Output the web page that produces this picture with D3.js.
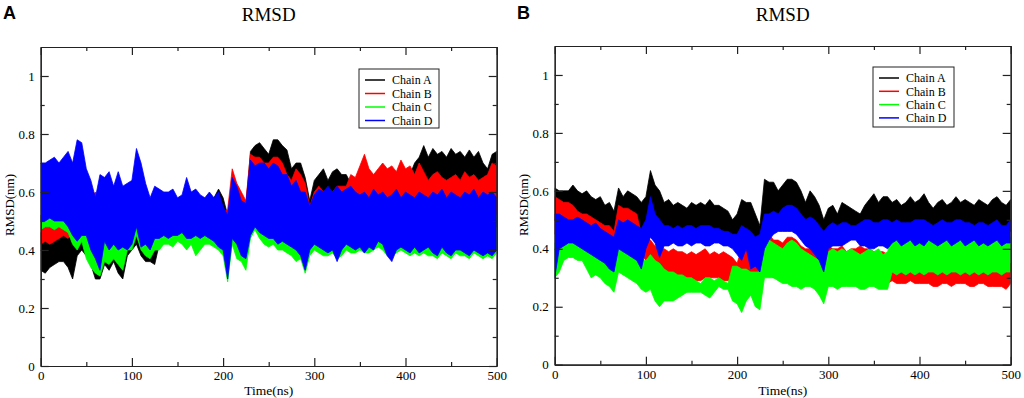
<!DOCTYPE html>
<html>
<head>
<meta charset="utf-8">
<title>RMSD</title>
<script src="https://d3js.org/d3.v7.min.js"></script>
<style>
  body { margin: 0; background: #fff; }
  svg { display: block; }
</style>
</head>
<body>
<svg width="1024" height="398" id="mainSvg"></svg>
<script>
// sampling grid of the traces (ns)
const timeNs = d3.range(0, 501, 5)

const chainNames = ["Chain A", "Chain B", "Chain C", "Chain D"]
const chainColors = ["#000000", "#ff0000", "#00ff00", "#0000ff"]

const xTicks = [0, 100, 200, 300, 400, 500]
const xMinor = [50, 150, 250, 350, 450]
const yTicks = [0, 0.2, 0.4, 0.6, 0.8, 1]
const yMinor = [0.1, 0.3, 0.5, 0.7, 0.9]

// ---- panel A : low / high envelope of each trace, every 5 ns ----
const aBlackHi = [0.46,0.47,0.45,0.46,0.48,0.47,0.46,0.48,0.55,0.56,
  0.55,0.54,0.53,0.55,0.56,0.55,0.56,0.55,0.54,0.55,
  0.56,0.58,0.56,0.55,0.54,0.55,0.56,0.56,0.56,0.56,
  0.56,0.56,0.56,0.56,0.57,0.57,0.57,0.58,0.58,0.61,
  0.58,0.52,0.62,0.60,0.56,0.55,0.74,0.76,0.77,0.75,
  0.73,0.78,0.78,0.76,0.745,0.68,0.70,0.70,0.65,0.57,
  0.64,0.66,0.68,0.64,0.67,0.68,0.66,0.66,0.63,0.62,
  0.64,0.65,0.64,0.63,0.64,0.65,0.64,0.65,0.64,0.66,
  0.65,0.66,0.70,0.72,0.76,0.72,0.75,0.73,0.74,0.72,
  0.75,0.73,0.74,0.72,0.745,0.72,0.74,0.70,0.68,0.73,
  0.74]
const aBlackLo = [0.33,0.32,0.34,0.35,0.36,0.36,0.34,0.30,0.38,0.40,
  0.38,0.35,0.30,0.30,0.35,0.33,0.36,0.32,0.30,0.38,
  0.40,0.42,0.38,0.36,0.36,0.35,0.42,0.44,0.44,0.44,
  0.45,0.45,0.44,0.44,0.43,0.44,0.44,0.44,0.43,0.42,
  0.41,0.32,0.44,0.40,0.39,0.36,0.46,0.49,0.47,0.46,
  0.45,0.45,0.44,0.44,0.43,0.42,0.40,0.40,0.36,0.41,
  0.43,0.42,0.41,0.41,0.42,0.38,0.42,0.43,0.44,0.45,
  0.46,0.46,0.46,0.46,0.47,0.47,0.46,0.46,0.47,0.47,
  0.47,0.47,0.48,0.48,0.48,0.48,0.48,0.48,0.48,0.48,
  0.48,0.48,0.48,0.48,0.48,0.48,0.48,0.48,0.48,0.48,
  0.48]
const aRedHi = [0.52,0.53,0.52,0.53,0.54,0.53,0.52,0.55,0.62,0.60,
  0.60,0.58,0.60,0.58,0.60,0.58,0.60,0.58,0.58,0.57,
  0.58,0.62,0.60,0.58,0.56,0.57,0.60,0.58,0.57,0.57,
  0.56,0.56,0.57,0.56,0.57,0.56,0.55,0.56,0.55,0.56,
  0.53,0.54,0.68,0.63,0.60,0.57,0.73,0.72,0.72,0.70,
  0.70,0.72,0.72,0.70,0.66,0.64,0.68,0.66,0.63,0.55,
  0.60,0.62,0.60,0.61,0.60,0.62,0.62,0.62,0.66,0.65,
  0.69,0.73,0.68,0.66,0.68,0.70,0.68,0.69,0.67,0.71,
  0.68,0.69,0.66,0.70,0.67,0.64,0.66,0.67,0.65,0.64,
  0.65,0.66,0.64,0.67,0.65,0.66,0.64,0.65,0.66,0.70,
  0.69]
const aRedLo = [0.42,0.43,0.42,0.43,0.44,0.45,0.44,0.46,0.46,0.47,
  0.46,0.45,0.44,0.45,0.46,0.46,0.47,0.46,0.45,0.46,
  0.47,0.50,0.47,0.46,0.45,0.46,0.47,0.47,0.47,0.47,
  0.47,0.48,0.47,0.47,0.47,0.47,0.47,0.47,0.46,0.45,
  0.44,0.40,0.48,0.46,0.44,0.43,0.50,0.52,0.51,0.50,
  0.49,0.49,0.48,0.48,0.47,0.46,0.46,0.45,0.42,0.44,
  0.46,0.46,0.46,0.46,0.46,0.45,0.46,0.47,0.50,0.52,
  0.54,0.55,0.53,0.52,0.54,0.53,0.52,0.53,0.52,0.54,
  0.53,0.52,0.53,0.54,0.52,0.51,0.52,0.53,0.52,0.51,
  0.52,0.53,0.52,0.53,0.52,0.52,0.51,0.52,0.53,0.54,
  0.53]
const aGreenHi = [0.52,0.53,0.53,0.52,0.53,0.52,0.51,0.52,0.56,0.55,
  0.54,0.50,0.48,0.50,0.54,0.52,0.53,0.52,0.50,0.52,
  0.54,0.58,0.55,0.52,0.50,0.52,0.53,0.52,0.53,0.52,
  0.53,0.52,0.54,0.52,0.53,0.52,0.52,0.53,0.51,0.50,
  0.48,0.46,0.56,0.52,0.50,0.48,0.58,0.60,0.58,0.57,
  0.56,0.57,0.56,0.55,0.54,0.53,0.54,0.52,0.50,0.50,
  0.53,0.54,0.53,0.54,0.53,0.52,0.53,0.54,0.53,0.52,
  0.53,0.52,0.53,0.54,0.55,0.56,0.53,0.52,0.53,0.52,
  0.53,0.52,0.53,0.52,0.53,0.52,0.52,0.51,0.53,0.52,
  0.51,0.52,0.52,0.51,0.52,0.53,0.52,0.51,0.52,0.51,
  0.52]
const aGreenLo = [0.47,0.48,0.48,0.47,0.48,0.47,0.46,0.42,0.40,0.43,
  0.37,0.34,0.32,0.31,0.36,0.35,0.37,0.35,0.33,0.40,
  0.40,0.45,0.40,0.38,0.37,0.40,0.40,0.42,0.42,0.41,
  0.43,0.42,0.40,0.42,0.38,0.40,0.42,0.42,0.41,0.40,
  0.38,0.29,0.42,0.37,0.36,0.33,0.44,0.47,0.44,0.42,
  0.41,0.42,0.40,0.40,0.39,0.38,0.36,0.37,0.32,0.38,
  0.40,0.39,0.38,0.38,0.39,0.37,0.38,0.40,0.39,0.39,
  0.40,0.39,0.39,0.40,0.41,0.40,0.38,0.38,0.39,0.40,
  0.39,0.38,0.39,0.38,0.39,0.38,0.38,0.37,0.39,0.38,
  0.37,0.39,0.38,0.38,0.37,0.39,0.38,0.37,0.38,0.37,
  0.39]
const aBlueHi = [0.70,0.70,0.71,0.72,0.70,0.72,0.74,0.70,0.78,0.77,
  0.68,0.64,0.58,0.66,0.65,0.67,0.62,0.67,0.62,0.63,
  0.64,0.75,0.70,0.63,0.58,0.62,0.61,0.60,0.60,0.61,
  0.58,0.59,0.65,0.60,0.61,0.59,0.58,0.60,0.58,0.60,
  0.55,0.52,0.65,0.62,0.57,0.56,0.71,0.69,0.70,0.70,
  0.68,0.70,0.69,0.66,0.66,0.62,0.64,0.60,0.60,0.55,
  0.59,0.61,0.60,0.62,0.60,0.62,0.60,0.61,0.62,0.60,
  0.59,0.60,0.58,0.61,0.59,0.60,0.58,0.59,0.61,0.58,
  0.60,0.59,0.58,0.60,0.59,0.58,0.60,0.59,0.61,0.58,
  0.60,0.59,0.58,0.60,0.59,0.61,0.58,0.60,0.59,0.60,
  0.58]
const aBlueLo = [0.50,0.50,0.51,0.50,0.50,0.50,0.48,0.45,0.43,0.45,
  0.45,0.40,0.37,0.33,0.43,0.40,0.42,0.40,0.41,0.40,
  0.42,0.48,0.41,0.42,0.40,0.44,0.44,0.45,0.44,0.45,
  0.45,0.46,0.44,0.44,0.45,0.44,0.45,0.44,0.43,0.41,
  0.40,0.30,0.44,0.42,0.38,0.37,0.45,0.48,0.46,0.45,
  0.44,0.44,0.42,0.43,0.42,0.41,0.40,0.38,0.33,0.40,
  0.42,0.41,0.40,0.39,0.40,0.36,0.40,0.42,0.41,0.40,
  0.41,0.39,0.41,0.40,0.43,0.42,0.38,0.36,0.40,0.41,
  0.40,0.39,0.41,0.39,0.40,0.41,0.39,0.38,0.41,0.39,
  0.38,0.40,0.40,0.39,0.38,0.40,0.39,0.38,0.39,0.38,
  0.40]

// ---- panel B ----
const bBlackHi = [0.61,0.60,0.60,0.60,0.62,0.60,0.59,0.60,0.58,0.57,
  0.58,0.55,0.56,0.53,0.61,0.58,0.60,0.59,0.58,0.56,
  0.58,0.67,0.62,0.60,0.56,0.57,0.55,0.56,0.55,0.54,
  0.56,0.55,0.56,0.55,0.57,0.55,0.55,0.54,0.53,0.50,
  0.52,0.57,0.56,0.56,0.52,0.48,0.64,0.63,0.63,0.60,
  0.62,0.64,0.64,0.63,0.60,0.56,0.60,0.58,0.55,0.50,
  0.54,0.55,0.52,0.56,0.55,0.54,0.53,0.52,0.55,0.57,
  0.59,0.56,0.58,0.58,0.56,0.57,0.55,0.56,0.58,0.56,
  0.57,0.59,0.56,0.54,0.56,0.57,0.55,0.56,0.58,0.56,
  0.57,0.56,0.55,0.57,0.56,0.55,0.57,0.58,0.56,0.55,
  0.57]
const bBlackLo = [0.50,0.52,0.52,0.51,0.50,0.50,0.49,0.48,0.48,0.47,
  0.47,0.46,0.45,0.44,0.48,0.48,0.48,0.47,0.46,0.45,
  0.46,0.48,0.45,0.44,0.46,0.46,0.46,0.46,0.46,0.46,
  0.46,0.46,0.46,0.46,0.46,0.46,0.46,0.46,0.45,0.44,
  0.44,0.46,0.46,0.44,0.43,0.42,0.48,0.48,0.48,0.48,
  0.48,0.49,0.49,0.48,0.47,0.46,0.46,0.45,0.44,0.42,
  0.45,0.46,0.45,0.47,0.46,0.45,0.46,0.47,0.46,0.45,
  0.46,0.47,0.46,0.45,0.46,0.47,0.46,0.45,0.46,0.47,
  0.46,0.45,0.46,0.47,0.46,0.45,0.46,0.47,0.46,0.45,
  0.46,0.47,0.46,0.45,0.46,0.47,0.46,0.45,0.46,0.47,
  0.46]
const bRedHi = [0.58,0.57,0.56,0.56,0.55,0.53,0.52,0.52,0.51,0.50,
  0.49,0.48,0.48,0.46,0.55,0.54,0.54,0.53,0.52,0.45,
  0.44,0.43,0.41,0.40,0.40,0.39,0.40,0.39,0.39,0.38,
  0.39,0.38,0.39,0.40,0.38,0.39,0.38,0.39,0.38,0.37,
  0.35,0.40,0.40,0.36,0.35,0.33,0.44,0.45,0.43,0.43,
  0.42,0.44,0.44,0.43,0.41,0.40,0.40,0.39,0.38,0.36,
  0.41,0.40,0.40,0.41,0.39,0.40,0.40,0.41,0.40,0.40,
  0.39,0.39,0.39,0.38,0.36,0.36,0.35,0.36,0.36,0.35,
  0.35,0.36,0.35,0.35,0.35,0.36,0.35,0.34,0.35,0.35,
  0.35,0.34,0.34,0.35,0.35,0.34,0.34,0.35,0.34,0.33,
  0.35]
const bRedLo = [0.45,0.50,0.50,0.49,0.48,0.47,0.45,0.45,0.44,0.43,
  0.42,0.41,0.40,0.39,0.45,0.45,0.45,0.44,0.42,0.38,
  0.36,0.34,0.32,0.31,0.30,0.29,0.29,0.29,0.29,0.29,
  0.29,0.29,0.29,0.30,0.30,0.30,0.30,0.29,0.29,0.30,
  0.30,0.30,0.30,0.30,0.30,0.29,0.32,0.31,0.30,0.30,
  0.30,0.30,0.30,0.30,0.29,0.29,0.29,0.29,0.28,0.28,
  0.30,0.29,0.29,0.29,0.28,0.29,0.28,0.28,0.28,0.28,
  0.28,0.28,0.28,0.28,0.29,0.28,0.28,0.28,0.29,0.28,
  0.28,0.28,0.28,0.27,0.27,0.28,0.28,0.27,0.28,0.28,
  0.28,0.27,0.27,0.28,0.28,0.27,0.27,0.27,0.27,0.26,
  0.28]
const bGreenHi = [0.42,0.43,0.42,0.43,0.44,0.43,0.43,0.41,0.40,0.41,
  0.40,0.39,0.38,0.37,0.42,0.41,0.40,0.39,0.38,0.36,
  0.36,0.38,0.36,0.35,0.33,0.32,0.32,0.31,0.31,0.30,
  0.30,0.29,0.28,0.30,0.30,0.29,0.30,0.29,0.28,0.34,
  0.34,0.33,0.33,0.32,0.32,0.32,0.40,0.43,0.42,0.41,
  0.40,0.42,0.43,0.42,0.40,0.39,0.38,0.37,0.36,0.32,
  0.39,0.40,0.39,0.40,0.39,0.40,0.39,0.38,0.39,0.40,
  0.39,0.40,0.38,0.39,0.44,0.45,0.43,0.44,0.45,0.44,
  0.44,0.43,0.45,0.44,0.43,0.44,0.45,0.43,0.44,0.45,
  0.43,0.44,0.45,0.43,0.44,0.43,0.44,0.45,0.43,0.44,
  0.44]
const bGreenLo = [0.30,0.32,0.36,0.37,0.37,0.36,0.36,0.33,0.30,0.31,
  0.30,0.28,0.27,0.25,0.32,0.31,0.30,0.29,0.28,0.26,
  0.25,0.26,0.22,0.20,0.22,0.22,0.22,0.23,0.24,0.25,
  0.25,0.25,0.25,0.24,0.23,0.25,0.27,0.26,0.26,0.22,
  0.21,0.18,0.22,0.24,0.20,0.19,0.30,0.30,0.30,0.29,
  0.28,0.28,0.27,0.27,0.26,0.27,0.27,0.26,0.24,0.21,
  0.27,0.27,0.26,0.27,0.27,0.27,0.27,0.26,0.26,0.27,
  0.27,0.26,0.26,0.26,0.32,0.31,0.32,0.31,0.32,0.31,
  0.32,0.31,0.32,0.32,0.31,0.32,0.31,0.32,0.32,0.31,
  0.32,0.31,0.32,0.31,0.32,0.31,0.32,0.32,0.31,0.32,
  0.32]
const bBlueHi = [0.52,0.52,0.51,0.50,0.50,0.51,0.50,0.49,0.48,0.49,
  0.47,0.46,0.45,0.44,0.50,0.49,0.50,0.49,0.48,0.47,
  0.50,0.58,0.52,0.50,0.48,0.48,0.47,0.48,0.47,0.48,
  0.48,0.47,0.48,0.48,0.48,0.47,0.47,0.46,0.46,0.45,
  0.45,0.48,0.47,0.46,0.44,0.45,0.52,0.52,0.53,0.52,
  0.54,0.55,0.55,0.54,0.52,0.50,0.51,0.50,0.48,0.46,
  0.48,0.49,0.48,0.49,0.49,0.48,0.48,0.49,0.50,0.50,
  0.49,0.49,0.50,0.50,0.49,0.50,0.49,0.49,0.49,0.50,
  0.50,0.50,0.49,0.48,0.49,0.50,0.49,0.49,0.50,0.50,
  0.49,0.49,0.48,0.49,0.49,0.48,0.49,0.50,0.48,0.48,
  0.50]
const bBlueLo = [0.30,0.40,0.41,0.42,0.42,0.41,0.40,0.39,0.38,0.37,
  0.36,0.35,0.33,0.32,0.40,0.39,0.38,0.37,0.36,0.33,
  0.40,0.44,0.42,0.37,0.41,0.41,0.42,0.41,0.41,0.42,
  0.41,0.42,0.42,0.41,0.41,0.42,0.42,0.41,0.41,0.40,
  0.38,0.36,0.40,0.33,0.34,0.32,0.40,0.43,0.45,0.46,
  0.46,0.46,0.46,0.45,0.43,0.41,0.40,0.38,0.36,0.32,
  0.40,0.41,0.41,0.41,0.42,0.43,0.43,0.41,0.41,0.40,
  0.40,0.41,0.41,0.40,0.42,0.43,0.41,0.42,0.43,0.41,
  0.42,0.41,0.43,0.42,0.41,0.42,0.43,0.41,0.42,0.43,
  0.41,0.42,0.43,0.41,0.42,0.41,0.42,0.43,0.41,0.42,
  0.42]

const mainSvg = d3.select("#mainSvg")
mainSvg.append("rect").attr("width", 1024).attr("height", 398).attr("fill", "#fff")

const serif = "'Liberation Serif', 'Times New Roman', serif"

function drawPanel(p) {
    const x = d3.scaleLinear().domain([0, 500]).range([p.left, p.right])
    const y = d3.scaleLinear().domain([0, 1.1]).range([p.bottom, p.top])
    const g = mainSvg.append("g")

    g.append("clipPath").attr("id", "clip" + p.letter)
        .append("rect")
        .attr("x", p.left).attr("y", p.top)
        .attr("width", p.right - p.left).attr("height", p.bottom - p.top)

    const area = d3.area()
        .x((d, i) => x(timeNs[i]))
        .y0(d => y(d[0]))
        .y1(d => y(d[1]))

    // chains drawn in order A, B, C, D (D ends up on top)
    const plot = g.append("g").attr("clip-path", `url(#clip${p.letter})`)
    p.series.forEach((s, k) => {
        const n = Math.min(s.lo.length, s.hi.length, timeNs.length)
        const pts = d3.range(n).map(i => [s.lo[i], s.hi[i]])
        plot.append("path")
            .datum(pts)
            .attr("d", area)
            .attr("fill", chainColors[k])
            .attr("stroke", chainColors[k])
            .attr("stroke-width", 0.8)
            .attr("stroke-linejoin", "miter")
    })

    //坐标轴：刻度朝内，四边都有
    const fmt = d => d3.format("~g")(d)
    g.append("g").attr("transform", `translate(0,${p.bottom})`)
        .call(d3.axisBottom(x).tickValues(xTicks).tickSize(-8).tickSizeOuter(0).tickPadding(5))
    g.append("g").attr("transform", `translate(0,${p.bottom})`)
        .call(d3.axisBottom(x).tickValues(xMinor).tickSize(-4).tickSizeOuter(0).tickFormat(""))
    g.append("g").attr("transform", `translate(0,${p.top})`)
        .call(d3.axisTop(x).tickValues(xTicks).tickSize(-8).tickSizeOuter(0).tickFormat(""))
    g.append("g").attr("transform", `translate(0,${p.top})`)
        .call(d3.axisTop(x).tickValues(xMinor).tickSize(-4).tickSizeOuter(0).tickFormat(""))
    g.append("g").attr("transform", `translate(${p.left},0)`)
        .call(d3.axisLeft(y).tickValues(yTicks).tickSize(-8).tickSizeOuter(0).tickPadding(6).tickFormat(fmt))
    g.append("g").attr("transform", `translate(${p.left},0)`)
        .call(d3.axisLeft(y).tickValues(yMinor).tickSize(-4).tickSizeOuter(0).tickFormat(""))
    g.append("g").attr("transform", `translate(${p.right},0)`)
        .call(d3.axisRight(y).tickValues(yTicks).tickSize(-8).tickSizeOuter(0).tickFormat(""))
    g.append("g").attr("transform", `translate(${p.right},0)`)
        .call(d3.axisRight(y).tickValues(yMinor).tickSize(-4).tickSizeOuter(0).tickFormat(""))

    g.selectAll(".domain").attr("stroke", "#222").attr("stroke-width", 1.2)
    g.selectAll(".tick line").attr("stroke", "#222").attr("stroke-width", 1.2)
    g.selectAll(".tick text")
        .attr("font-family", serif).attr("font-size", 13).attr("fill", "#000")

    // titles
    const cx = (p.left + p.right) / 2
    g.append("text").text("RMSD")
        .attr("x", cx).attr("y", 20.5)
        .attr("text-anchor", "middle")
        .attr("font-family", serif).attr("font-size", 19)
    g.append("text").text("Time(ns)")
        .attr("x", cx).attr("y", 395)
        .attr("text-anchor", "middle")
        .attr("font-family", serif).attr("font-size", 13.5)
    g.append("text").text("RMSD(nm)")
        .attr("transform", `translate(${p.left - 27},205) rotate(-90)`)
        .attr("text-anchor", "middle")
        .attr("font-family", serif).attr("font-size", 13)
    g.append("text").text(p.letter)
        .attr("x", p.letterX).attr("y", 18.5)
        .attr("font-family", "'Liberation Sans', Arial, sans-serif")
        .attr("font-weight", "bold").attr("font-size", 18)

    // legend
    const lg = p.legend
    g.append("rect")
        .attr("x", lg.x).attr("y", lg.y).attr("width", lg.w).attr("height", lg.h)
        .attr("fill", "#fff").attr("stroke", "#222").attr("stroke-width", 1)
    chainNames.forEach((name, k) => {
        const yy = lg.y + 11 + k * lg.step
        g.append("line")
            .attr("x1", lg.x + 6).attr("x2", lg.x + 26)
            .attr("y1", yy).attr("y2", yy)
            .attr("stroke", chainColors[k]).attr("stroke-width", 1.5)
        g.append("text").text(name)
            .attr("x", lg.x + 33).attr("y", yy).attr("dy", "0.35em")
            .attr("font-family", serif).attr("font-size", 12)
    })
}

drawPanel({
    letter: "A", letterX: 3,
    left: 40.7, right: 496.7, top: 47, bottom: 366,
    series: [
        {lo: aBlackLo, hi: aBlackHi},
        {lo: aRedLo, hi: aRedHi},
        {lo: aGreenLo, hi: aGreenHi},
        {lo: aBlueLo, hi: aBlueHi}
    ],
    legend: {x: 359, y: 69, w: 80, h: 59, step: 13.5}
})

drawPanel({
    letter: "B", letterX: 517,
    left: 554.7, right: 1010.7, top: 46, bottom: 364.7,
    series: [
        {lo: bBlackLo, hi: bBlackHi},
        {lo: bRedLo, hi: bRedHi},
        {lo: bGreenLo, hi: bGreenHi},
        {lo: bBlueLo, hi: bBlueHi}
    ],
    legend: {x: 873, y: 67, w: 81, h: 60, step: 13.3}
})
</script>
</body>
</html>
